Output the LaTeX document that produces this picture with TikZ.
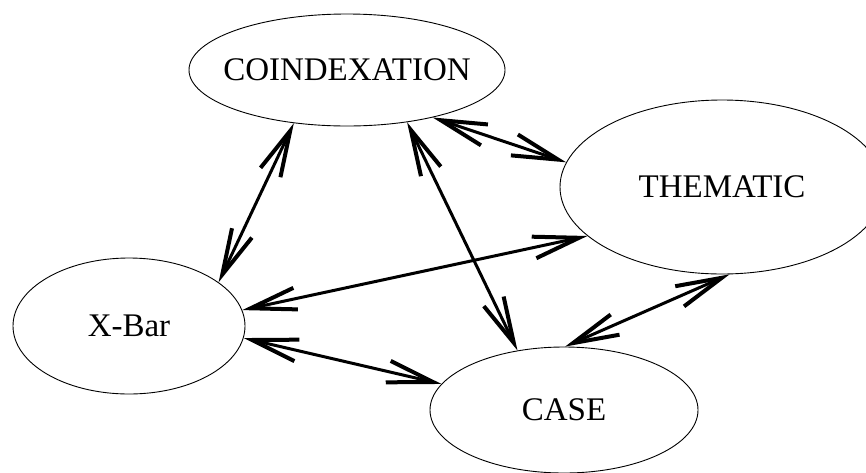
\documentclass[tikz,border=0pt]{standalone}
\usepackage{fontspec}
\setmainfont{Liberation Serif}
\usetikzlibrary{arrows.meta,shapes.geometric}
\begin{document}
\begin{tikzpicture}[x=1pt,y=-1pt,
  module/.style={draw, ellipse, line width=0.9pt, inner xsep=-40pt, inner ysep=0pt,
    font=\fontsize{33}{40}\selectfont},
  link/.style={line width=3pt,
    >={Straight Barb[length=46pt,width=22pt,line width=4pt]}, <->}]
\useasboundingbox (0,0) rectangle (866,472);

% principle modules
\node[module, minimum width=316pt, minimum height=112pt] (coind) at (347,70)  {COINDEXATION};
\node[module, minimum width=324pt, minimum height=174pt] (them)  at (722,187) {THEMATIC};
\node[module, minimum width=232pt, minimum height=136pt] (xbar)  at (129,326) {X-Bar};
\node[module, minimum width=268pt, minimum height=126pt] (case)  at (564,410) {CASE};

% mutual interactions
\draw[link] (coind.225) -- (xbar.26);
\draw[link] (coind.331) -- (them.171);
\draw[link] (coind.319) -- (case.128);
\draw[link] (xbar.8)    -- (them.200);
\draw[link] (xbar.354)  -- (case.168);
\draw[link] (case.89)   -- (them.275);
\end{tikzpicture}
\end{document}
